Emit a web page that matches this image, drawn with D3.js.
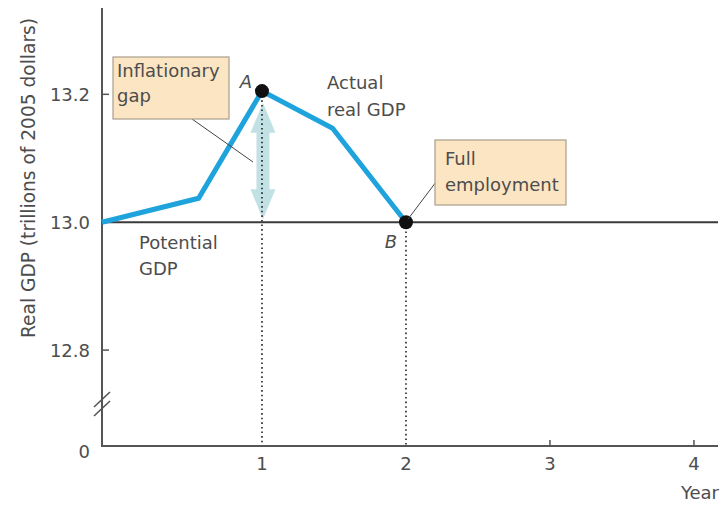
<!DOCTYPE html>
<html>
<head>
<meta charset="utf-8">
<script src="https://cdn.jsdelivr.net/npm/d3@7/dist/d3.min.js"></script>
<style>
  body { margin: 0; background: #fff; }
  svg { display: block; }
  text { font-family: "DejaVu Sans", "Noto Sans", sans-serif; fill: #4d4d4d; }
</style>
</head>
<body>
<svg id="chart" width="723" height="505"></svg>
<script>
// ---- data ----
const years = [-0.111, 0.56, 1, 1.49, 2];
const actualGDP = [13.0, 13.0375, 13.205, 13.147, 13.0];
const potentialGDP = 13.0;
const xTicks = [1, 2, 3, 4];
const yTicks = [12.8, 13.0, 13.2];
const yTickLabels = ["12.8", "13.0", "13.2"];
const pointA = { year: 1, value: 13.205, label: "A" };
const pointB = { year: 2, value: 13.0, label: "B" };
const gapRange = [13.0, 13.187];

// ---- scales ----
const svg = d3.select("#chart");
const x = d3.scaleLinear().domain([-0.111, 4.167]).range([102, 718]);
const y = d3.scaleLinear().domain([12.65, 13.335]).range([446, 8]);
const x0 = x.range()[0], yBase = y.range()[0];

const axisColor = "#555";
const blue = "#1fa3dc";
const FS = 18;

// gap arrow (behind)
const arrowX = x(1) + 1;
const aTop = y(gapRange[1]), aBot = y(gapRange[0]) - 3;
const headH = 30, headW = 12.5, shaftW = 6.5;
svg.append("path")
  .attr("d", `M${arrowX},${aTop} L${arrowX + headW},${aTop + headH} L${arrowX + shaftW},${aTop + headH}
              L${arrowX + shaftW},${aBot - headH} L${arrowX + headW},${aBot - headH} L${arrowX},${aBot}
              L${arrowX - headW},${aBot - headH} L${arrowX - shaftW},${aBot - headH}
              L${arrowX - shaftW},${aTop + headH} L${arrowX - headW},${aTop + headH} Z`)
  .attr("fill", "#c2e1e4");

// potential GDP line
svg.append("line")
  .attr("x1", x0).attr("x2", x.range()[1])
  .attr("y1", y(potentialGDP)).attr("y2", y(potentialGDP))
  .attr("stroke", "#3a3a3a").attr("stroke-width", 2);

// dotted verticals
[pointA, pointB].forEach(p => {
  svg.append("line")
    .attr("x1", x(p.year)).attr("x2", x(p.year))
    .attr("y1", y(p.value)).attr("y2", yBase)
    .attr("stroke", "#222").attr("stroke-width", 1.6)
    .attr("stroke-dasharray", "1.6,3");
});

// axes
svg.append("line").attr("x1", x0).attr("x2", x0).attr("y1", y.range()[1]).attr("y2", yBase)
  .attr("stroke", axisColor).attr("stroke-width", 2);
svg.append("line").attr("x1", x0 - 1).attr("x2", x.range()[1]).attr("y1", yBase).attr("y2", yBase)
  .attr("stroke", axisColor).attr("stroke-width", 2);

// y ticks (inner)
yTicks.forEach((t, i) => {
  svg.append("line").attr("x1", x0).attr("x2", x0 + 7).attr("y1", y(t)).attr("y2", y(t))
    .attr("stroke", axisColor).attr("stroke-width", 1.5);
  svg.append("text").attr("x", 90).attr("y", y(t)).attr("dy", "0.36em")
    .attr("text-anchor", "end").attr("font-size", FS).text(yTickLabels[i]);
});
svg.append("text").attr("x", 90).attr("y", 452).attr("dy", "0.36em")
  .attr("text-anchor", "end").attr("font-size", FS).text("0");

// axis break
[0, 9].forEach(off => {
  svg.append("line")
    .attr("x1", x0 - 8).attr("y1", 407 + off).attr("x2", x0 + 8).attr("y2", 392 + off)
    .attr("stroke", axisColor).attr("stroke-width", 1.6);
});

// x ticks
xTicks.forEach(t => {
  if (t > 2) {
    svg.append("line").attr("x1", x(t)).attr("x2", x(t)).attr("y1", yBase).attr("y2", yBase - 6)
      .attr("stroke", axisColor).attr("stroke-width", 1.5);
  }
  svg.append("text").attr("x", x(t)).attr("y", 464).attr("dy", "0.36em")
    .attr("text-anchor", "middle").attr("font-size", FS).text(t);
});
svg.append("text").attr("x", 719).attr("y", 499).attr("text-anchor", "end")
  .attr("font-size", FS).text("Year");

// y axis title
svg.append("text").attr("transform", "translate(28,178) rotate(-90)")
  .attr("text-anchor", "middle").attr("dy", "0.36em").attr("font-size", 18.6)
  .text("Real GDP (trillions of 2005 dollars)");

// actual GDP line
const line = d3.line().x((d, i) => x(years[i])).y(d => y(d));
svg.append("path").datum(actualGDP).attr("d", line)
  .attr("fill", "none").attr("stroke", blue).attr("stroke-width", 5)
  .attr("stroke-linejoin", "miter");

// points
[pointA, pointB].forEach(p => {
  svg.append("circle").attr("cx", x(p.year)).attr("cy", y(p.value)).attr("r", 7)
    .attr("fill", "#111");
});
svg.append("text").attr("x", 252).attr("y", 88).attr("text-anchor", "end")
  .attr("font-size", FS).attr("font-style", "italic").text(pointA.label);
svg.append("text").attr("x", 397).attr("y", 248).attr("text-anchor", "end")
  .attr("font-size", FS).attr("font-style", "italic").text(pointB.label);

// leader lines
svg.append("line").attr("x1", 192).attr("y1", 119).attr("x2", 253).attr("y2", 162)
  .attr("stroke", "#444").attr("stroke-width", 1);
svg.append("line").attr("x1", 436).attr("y1", 182).attr("x2", x(pointB.year) + 2).attr("y2", y(pointB.value) - 3)
  .attr("stroke", "#444").attr("stroke-width", 1);

// callout boxes
function box(x1, y1, w, h, lines, tx, firstBase, lh) {
  svg.append("rect").attr("x", x1).attr("y", y1).attr("width", w).attr("height", h)
    .attr("fill", "#fbe5c3").attr("stroke", "#a99f8c").attr("stroke-width", 1.2);
  lines.forEach((s, i) => {
    svg.append("text").attr("x", tx).attr("y", firstBase + i * lh)
      .attr("font-size", FS).text(s);
  });
}
box(113, 57, 116, 62, ["Inflationary", "gap"], 117, 77, 25);
box(435, 140, 131, 65, ["Full", "employment"], 445, 165, 26);

// free labels
[["Actual", 89], ["real GDP", 116]].forEach(([s, b]) => {
  svg.append("text").attr("x", 327).attr("y", b).attr("font-size", FS).text(s);
});
[["Potential", 249], ["GDP", 275]].forEach(([s, b]) => {
  svg.append("text").attr("x", 139).attr("y", b).attr("font-size", FS).text(s);
});
</script>
</body>
</html>
